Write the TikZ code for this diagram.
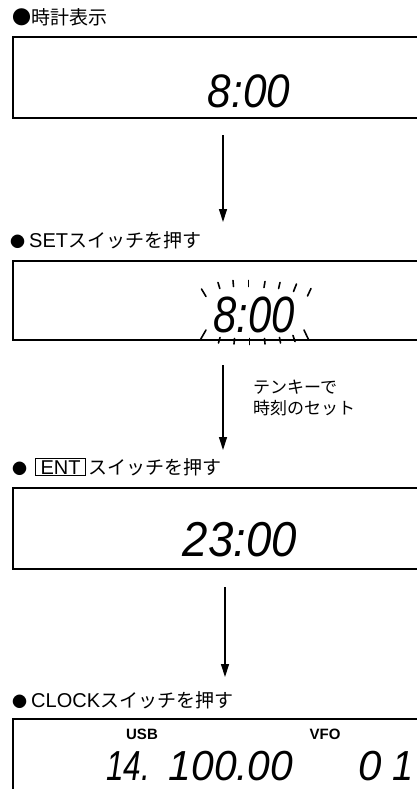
\documentclass[tikz,border=0pt]{standalone}
\usepackage{graphicx}
\usepackage{fontspec}
\newfontfamily\jp{Noto Sans CJK JP}
\newfontfamily\lcd{Liberation Sans}
\newfontfamily\lbl{Liberation Sans}
\newcommand{\smdot}{{\fontsize{15}{15}\selectfont ●}\hspace{4pt}}
\newcommand{\lat}[1]{{\lbl\fontsize{20}{20}\selectfont #1}}
\usetikzlibrary{arrows.meta}
\begin{document}
\begin{tikzpicture}[x=1pt,y=-1pt,
  disp/.style={draw, line width=1.8pt, rectangle, anchor=north west, minimum width=430pt, inner sep=0pt},
  flow/.style={line width=1.3pt, -{Triangle[width=8pt,length=13pt]}},
  head/.style={anchor=base west, inner sep=0pt, font=\jp\fontsize{19}{19}\selectfont},
  note/.style={anchor=base west, inner sep=0pt, font=\jp\fontsize{17}{17}\selectfont},
  lcdtxt/.style={inner sep=0pt, font=\lcd\itshape\fontsize{#1}{#1}\selectfont},
  modetxt/.style={inner sep=0pt, font=\lbl\bfseries\fontsize{15}{15}\selectfont},
  blink/.style={line width=1.6pt, line cap=round}]
\clip (0,0) rectangle (417,789);

% headings
\node[head] (h1) at (12,25) {●時計表示};
\node[head] (h2) at (10,247) {\smdot\lat{SET}スイッチを押す};
\node[head] (h3b) at (12,474) {\smdot};
\node[head, draw, line width=1pt, inner xsep=5pt, inner ysep=1.5pt] (ent) at (35,474) {\lat{ENT}};
\node[head] (h3t) at ([xshift=2pt]ent.base east) {スイッチを押す};
\node[head] (h4) at (12,707) {\smdot\lat{CLOCK}スイッチを押す};

% displays
\node[disp, minimum height=81pt] (d1) at (12,36) {};
\node[disp, minimum height=79pt] (d2) at (12,260) {};
\node[disp, minimum height=81pt] (d3) at (12,487) {};
\node[disp, minimum height=120pt] (d4) at (12,718) {};

% display contents
\node[lcdtxt=47] (t1) at (249,91) {\scalebox{0.9}[1]{8:00}};
\node[lcdtxt=51] (t2) at (254,315) {\scalebox{0.82}[1]{8:00}};
\node[lcdtxt=49] (t3) at (240,540) {\scalebox{0.93}[1]{23:00}};
\node[modetxt] (usb) at (142,734) {USB};
\node[modetxt] (vfo) at (325,734) {VFO};
\node[lcdtxt=42] (f1) at (128,766) {\scalebox{0.75}[1]{14.}};
\node[lcdtxt=42] (f2) at (231,766) {\scalebox{0.97}[1]{100.00}};
\node[lcdtxt=42] (f3) at (370,766) {0};
\node[lcdtxt=42] (f4) at (403,766) {\scalebox{0.9}[1]{1}};

% blinking marks
\foreach \a/\b in {
  {(201.5,289)}/{(206,296.5)}, {(218,282.5)}/{(219.8,288.5)},
  {(233,280.5)}/{(233.5,286.5)}, {(248.5,280.5)}/{(248.5,286.5)},
  {(265,281.5)}/{(264,287.5)}, {(280,282.5)}/{(278.6,288.5)},
  {(296.5,284)}/{(293.5,291.5)}, {(311,288.5)}/{(307.5,296)},
  {(206,330)}/{(200.5,339.5)}, {(220,337.5)}/{(218.5,343)},
  {(234.5,338.5)}/{(234,344)}, {(249.5,338.5)}/{(249.5,344.5)},
  {(264.5,338.5)}/{(265,344)}, {(279.5,337.5)}/{(280.5,343)},
  {(293,335.5)}/{(295,341.5)}, {(304,330)}/{(308.5,339.5)}}
  \draw[blink] \a -- \b;

% note
\node[note] (n1) at (253,393) {テンキーで};
\node[note] (n2) at (253,414) {時刻のセット};

% arrows
\coordinate (a1s) at (223,135); \coordinate (a1e) at (223,222);
\coordinate (a2s) at (223,365); \coordinate (a2e) at (223,450);
\coordinate (a3s) at (225,587); \coordinate (a3e) at (225,677);
\draw[flow] (a1s) -- (a1e);
\draw[flow] (a2s) -- (a2e);
\draw[flow] (a3s) -- (a3e);
\end{tikzpicture}
\end{document}
